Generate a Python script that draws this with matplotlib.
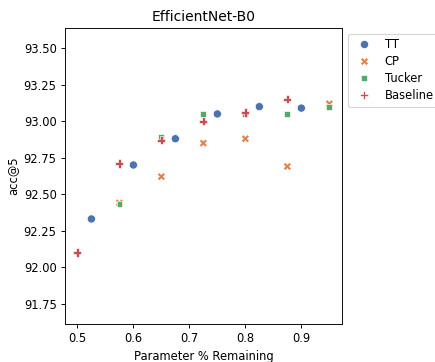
import matplotlib
matplotlib.use("Agg")
import matplotlib.pyplot as plt
import pandas as pd
import seaborn as sns

# values
methods = ["TT", "CP", "Tucker", "Baseline"]

tt_x = [0.525, 0.6, 0.675, 0.75, 0.825, 0.9]
tt_y = [92.33, 92.70, 92.88, 93.05, 93.10, 93.09]

cp_x = [0.575, 0.65, 0.725, 0.8, 0.875, 0.95]
cp_y = [92.44, 92.62, 92.85, 92.88, 92.69, 93.12]

tucker_x = [0.575, 0.65, 0.725, 0.8, 0.875, 0.95]
tucker_y = [92.43, 92.89, 93.05, 93.05, 93.05, 93.10]

base_x = [0.5, 0.575, 0.65, 0.725, 0.8, 0.875]
base_y = [92.10, 92.71, 92.87, 93.00, 93.06, 93.15]

rows = []
for name, xs, ys in zip(methods,
                        [tt_x, cp_x, tucker_x, base_x],
                        [tt_y, cp_y, tucker_y, base_y]):
    for x, y in zip(xs, ys):
        rows.append({"Parameter % Remaining": x, "acc@5": y, "method": name})
df = pd.DataFrame(rows)

# original looks like a larger figure scaled down, so use a lower dpi
dpi = 83
fig = plt.figure(figsize=(435 / dpi, 362 / dpi), dpi=dpi)
ax = fig.add_axes([0.149, 0.105, 0.637, 0.818])

sns.scatterplot(data=df, x="Parameter % Remaining", y="acc@5",
                hue="method", style="method", hue_order=methods,
                style_order=methods, palette="deep", s=50, ax=ax)

ax.set_ylim(91.61, 93.64)
ax.set_yticks([91.75, 92.0, 92.25, 92.5, 92.75, 93.0, 93.25, 93.5])
ax.set_yticklabels([f"{v:.2f}" for v in ax.get_yticks()])
ax.set_title("EfficientNet-B0")

sns.move_legend(ax, "upper left", bbox_to_anchor=(1.0, 1.0), title=None,
                labelspacing=0.35)

fig.savefig("out.png", dpi=dpi)
plt.close(fig)
